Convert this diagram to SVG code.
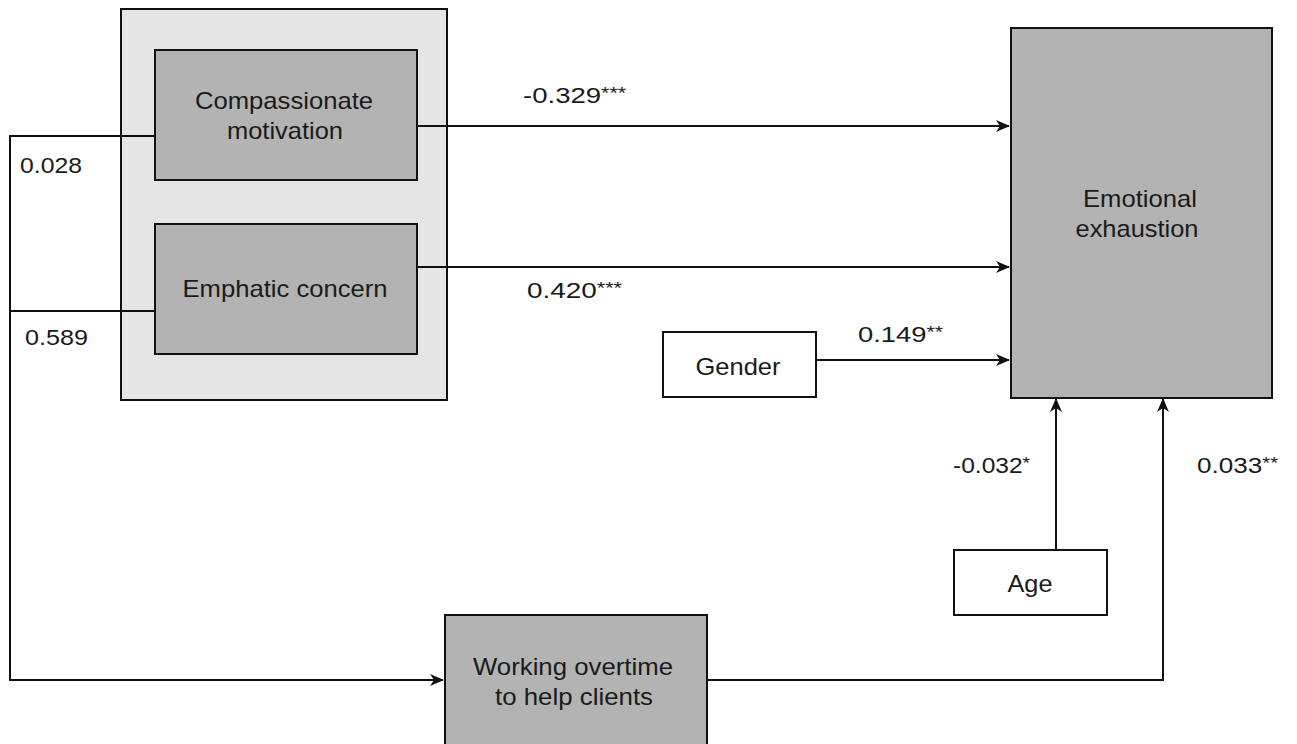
<svg xmlns="http://www.w3.org/2000/svg" width="1297" height="744" viewBox="0 0 1297 744">
<style>
.t{font-family:"Liberation Sans",Arial,sans-serif;font-size:24px;fill:#1a1a1a;text-anchor:middle}
.l{font-family:"Liberation Sans",Arial,sans-serif;font-size:22px;fill:#1a1a1a}
.s{font-size:17px}
.dk{fill:#b3b3b3;stroke:#111;stroke-width:2}
.wh{fill:#fff;stroke:#111;stroke-width:2}
.c{fill:none;stroke:#111;stroke-width:2}
</style>
<defs>
<marker id="a" markerWidth="14" markerHeight="12" refX="13" refY="6" orient="auto" markerUnits="userSpaceOnUse">
<path d="M0,0 L14,6 L0,12 L4,6 Z" fill="#111"/>
</marker>
</defs>
<rect width="1297" height="744" fill="#fff"/>
<g id="group">
<rect x="121" y="9" width="326" height="391" fill="#e5e5e5" stroke="#111" stroke-width="2"/>
</g>
<g id="connectors">
<polyline class="c" points="155,136 10,136 10,680 443,680" marker-end="url(#a)"/>
<line class="c" x1="10" y1="311" x2="155" y2="311"/>
<line class="c" x1="417" y1="126" x2="1009" y2="126" marker-end="url(#a)"/>
<line class="c" x1="417" y1="267" x2="1009" y2="267" marker-end="url(#a)"/>
<line class="c" x1="816" y1="360" x2="1009" y2="360" marker-end="url(#a)"/>
<line class="c" x1="1056" y1="550" x2="1056" y2="399" marker-end="url(#a)"/>
<polyline class="c" points="707,680 1163,680 1163,399" marker-end="url(#a)"/>
<text class="l" x="20" y="173" textLength="62" lengthAdjust="spacingAndGlyphs">0.028</text>
<text class="l" x="25" y="345" textLength="63" lengthAdjust="spacingAndGlyphs">0.589</text>
<text class="l" x="523" y="103" textLength="103" lengthAdjust="spacingAndGlyphs">-0.329<tspan class="s" dy="-4">***</tspan></text>
<text class="l" x="527" y="298" textLength="95" lengthAdjust="spacingAndGlyphs">0.420<tspan class="s" dy="-4">***</tspan></text>
<text class="l" x="858" y="342" textLength="85" lengthAdjust="spacingAndGlyphs">0.149<tspan class="s" dy="-4">**</tspan></text>
<text class="l" x="953" y="473" textLength="77" lengthAdjust="spacingAndGlyphs">-0.032<tspan class="s" dy="-4">*</tspan></text>
<text class="l" x="1197" y="473" textLength="81" lengthAdjust="spacingAndGlyphs">0.033<tspan class="s" dy="-4">**</tspan></text>
</g>
<g id="compassionate">
<rect class="dk" x="155" y="50" width="262" height="130"/>
<text class="t" x="284" y="109" textLength="178" lengthAdjust="spacingAndGlyphs">Compassionate</text>
<text class="t" x="285" y="139" textLength="116" lengthAdjust="spacingAndGlyphs">motivation</text>
</g>
<g id="emphatic">
<rect class="dk" x="155" y="224" width="262" height="130"/>
<text class="t" x="285" y="297" textLength="205" lengthAdjust="spacingAndGlyphs">Emphatic concern</text>
</g>
<g id="exhaustion">
<rect class="dk" x="1011" y="28" width="261" height="370"/>
<text class="t" x="1140" y="207" textLength="114" lengthAdjust="spacingAndGlyphs">Emotional</text>
<text class="t" x="1137" y="237" textLength="123" lengthAdjust="spacingAndGlyphs">exhaustion</text>
</g>
<g id="gender">
<rect class="wh" x="663" y="332" width="153" height="65"/>
<text class="t" x="738" y="375" textLength="85" lengthAdjust="spacingAndGlyphs">Gender</text>
</g>
<g id="age">
<rect class="wh" x="954" y="550" width="153" height="65"/>
<text class="t" x="1030" y="592" textLength="45" lengthAdjust="spacingAndGlyphs">Age</text>
</g>
<g id="overtime">
<rect class="dk" x="445" y="615" width="262" height="140"/>
<text class="t" x="573" y="675" textLength="200" lengthAdjust="spacingAndGlyphs">Working overtime</text>
<text class="t" x="574" y="705" textLength="158" lengthAdjust="spacingAndGlyphs">to help clients</text>
</g>
</svg>
